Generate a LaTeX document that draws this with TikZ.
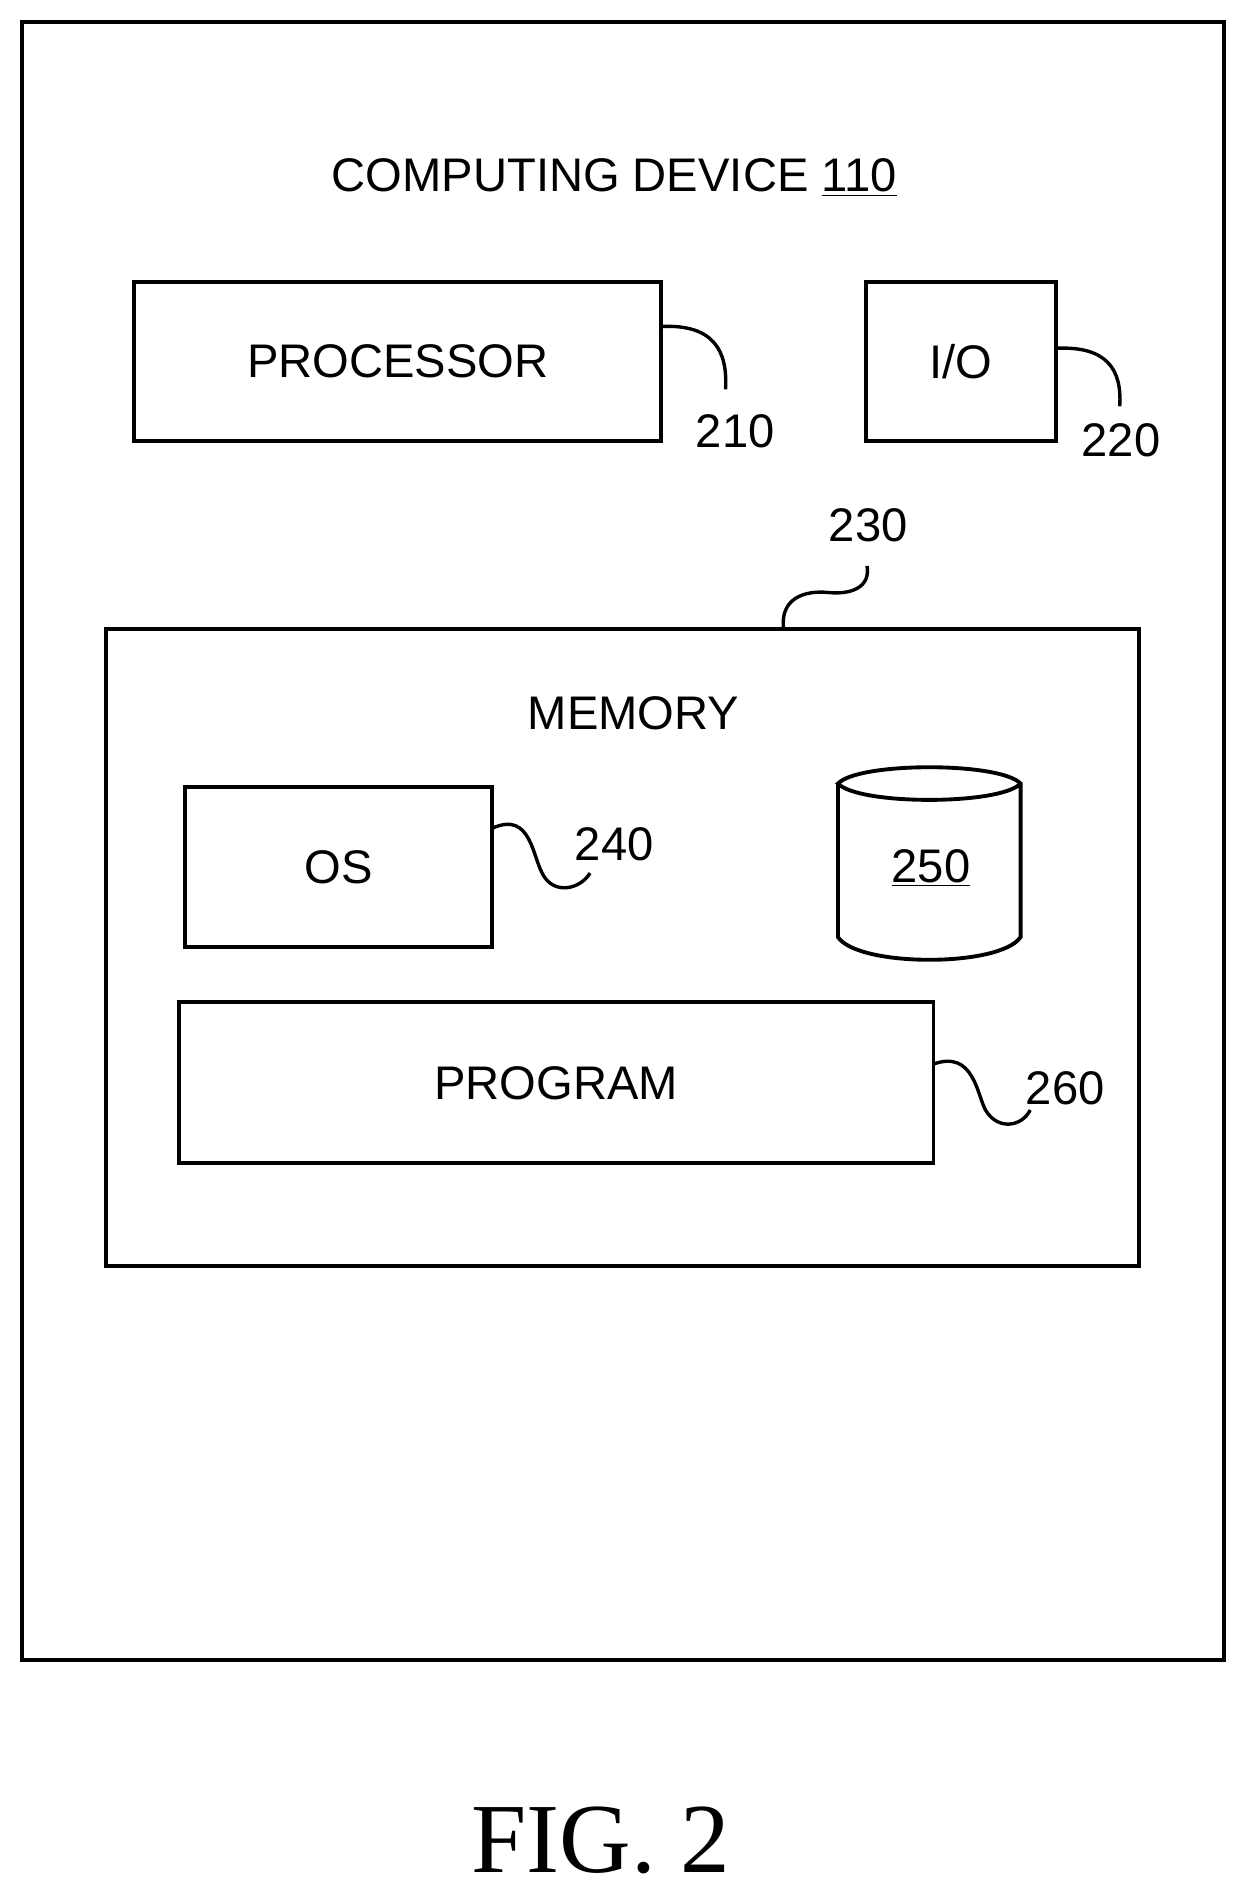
\documentclass[tikz,border=0pt]{standalone}
\usepackage{fontspec}
\setmainfont{Liberation Sans}
\newfontfamily\figfont{Liberation Serif}
\usetikzlibrary{positioning}
\tikzset{
  block/.style={draw,line width=1.6pt,inner sep=0pt},
  lbl/.style={font=\fontsize{19.5}{22}\selectfont,inner sep=1pt},
  lead/.style={line width=1.4pt}
}
\begin{document}
\begin{tikzpicture}[x=0.5pt,y=-0.5pt,line join=miter]
  \useasboundingbox (0,0) rectangle (1030,1568);
  % outer device
  \node[block,minimum width=497pt,minimum height=677.5pt] (dev) at (515,695.5) {};
  \node[lbl] (title) at (508,147) {COMPUTING DEVICE \underline{110}};

  \node[block,minimum width=218pt,minimum height=66pt] (proc) at (329,299) {};
  \node[lbl] at (proc.center) {PROCESSOR};
  \node[lbl] (n210) at (608,357) {210};
  \draw[lead] (547,270) .. controls (590,268) and (602,290) .. (600,322);

  \node[block,minimum width=78.5pt,minimum height=66pt] (io) at (794.5,299) {};
  \node[lbl] at (io.center) {I/O};
  \node[lbl] (n220) at (927,364) {220};
  \draw[lead] (873,288) .. controls (915,286) and (928,305) .. (926,336);

  % memory
  \node[block,minimum width=427pt,minimum height=263.5pt] (mem) at (515,783.5) {};
  \node[lbl] at (524,590) {MEMORY};
  \node[lbl] (n230) at (718,434) {230};
  \draw[lead] (648,520) .. controls (645,495) and (665,488) .. (685,490)
    .. controls (705,492) and (720,485) .. (717,468);

  \node[block,minimum width=127pt,minimum height=66pt] (os) at (280,717) {};
  \node[lbl] at (os.center) {OS};
  \node[lbl] (n240) at (508,698) {240};
  \draw[lead] (407,685) .. controls (440,670) and (440,710) .. (450,725)
    .. controls (460,740) and (480,735) .. (488,722);

  % storage cylinder
  \draw[line width=1.6pt] (693,648) -- (693,775)
    .. controls (710,800) and (827,800) .. (844,775) -- (844,648)
    .. controls (827,630) and (710,630) .. (693,648)
    .. controls (710,666) and (827,666) .. (844,648);
  \node[lbl] (n250) at (770,718) {\underline{250}};

  \node[block,minimum width=312pt,minimum height=66.5pt] (prog) at (460,895.5) {};
  \node[lbl] at (prog.center) {PROGRAM};
  \node[lbl] (n260) at (881,900) {260};
  \draw[lead] (772,880) .. controls (805,868) and (808,905) .. (815,918)
    .. controls (825,935) and (845,932) .. (852,918);

  \node[font=\figfont\fontsize{41}{46}\selectfont] (fig) at (497,1522) {FIG. 2};
\end{tikzpicture}
\end{document}
